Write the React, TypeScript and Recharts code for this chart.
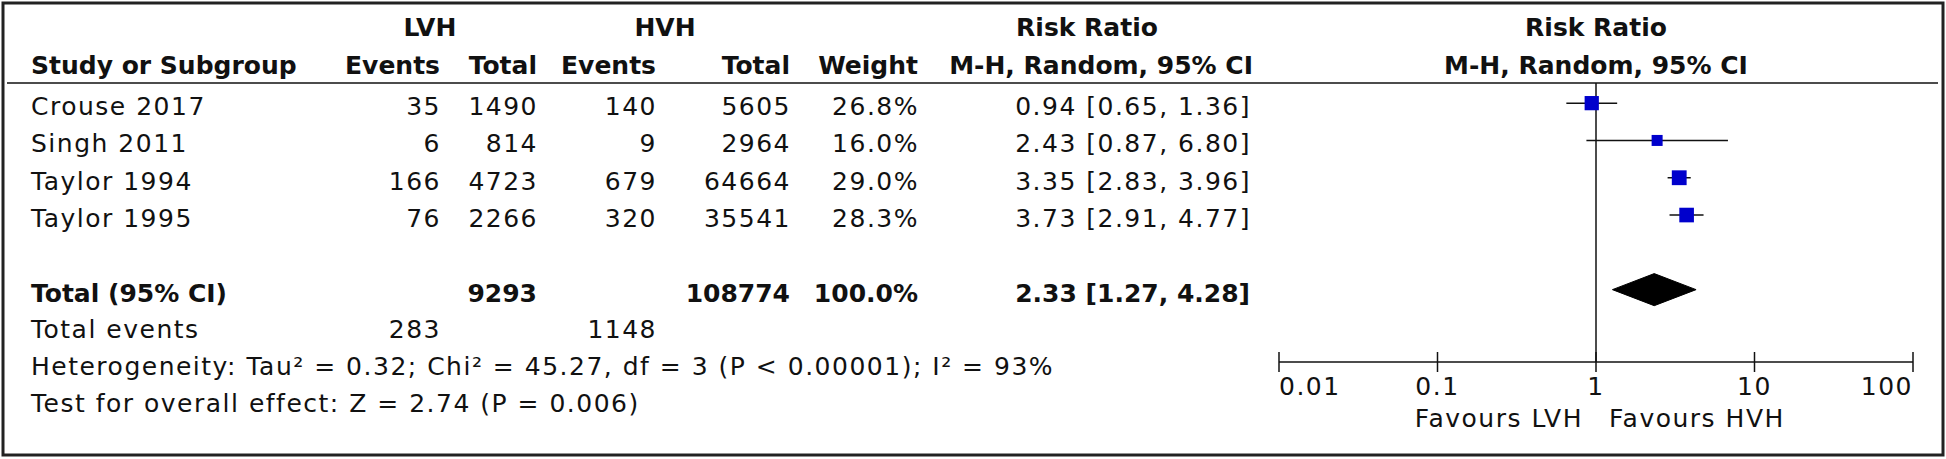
import React from 'react';
import { ComposedChart, Scatter, XAxis, YAxis, ReferenceLine, Customized } from 'recharts';

// ---------- data ----------
const studies = ['Crouse 2017', 'Singh 2011', 'Taylor 1994', 'Taylor 1995'];
const lvhEvents = [35, 6, 166, 76];
const lvhTotal = [1490, 814, 4723, 2266];
const hvhEvents = [140, 9, 679, 320];
const hvhTotal = [5605, 2964, 64664, 35541];
const weights = [26.8, 16.0, 29.0, 28.3];
const riskRatio = [0.94, 2.43, 3.35, 3.73];
const ciLow = [0.65, 0.87, 2.83, 2.91];
const ciHigh = [1.36, 6.8, 3.96, 4.77];

const pooledRR = 2.33;
const pooledLow = 1.27;
const pooledHigh = 4.28;
const totalLvh = 9293;
const totalHvh = 108774;
const totalWeight = 100.0;
const totalEventsLvh = 283;
const totalEventsHvh = 1148;
const heterogeneityText = 'Heterogeneity: Tau\u00B2 = 0.32; Chi\u00B2 = 45.27, df = 3 (P < 0.00001); I\u00B2 = 93%';
const overallText = 'Test for overall effect: Z = 2.74 (P = 0.006)';

const xTicks = [0.01, 0.1, 1, 10, 100];
const favoursLeft = 'Favours LVH';
const favoursRight = 'Favours HVH';

// ---------- styles ----------
const W = 1946;
const H = 459;
const FONT = "'DejaVu Sans', sans-serif";
const INK = '#111';
const REG: any = { fontFamily: FONT, fontSize: 25, letterSpacing: 1.5, fill: INK };
const BOLD: any = { fontFamily: FONT, fontSize: 25, fontWeight: 700, fill: INK };
const COL = { name: 31, lvhEv: 441, lvhTot: 538, hvhEv: 657, hvhTot: 791, weight: 919, ci: 1251 };
const TOTAL_ROW = 5;
const DIAMOND_HALF = 0.43;

const fmtCI = (r: number, lo: number, hi: number) => `${r.toFixed(2)} [${lo.toFixed(2)}, ${hi.toFixed(2)}]`;

const tableData = [
  ...studies.map((name, i) => ({
    x: 1,
    y: i,
    bold: false,
    cells: [
      { t: name, x: COL.name, a: 'start' },
      { t: String(lvhEvents[i]), x: COL.lvhEv, a: 'end' },
      { t: String(lvhTotal[i]), x: COL.lvhTot, a: 'end' },
      { t: String(hvhEvents[i]), x: COL.hvhEv, a: 'end' },
      { t: String(hvhTotal[i]), x: COL.hvhTot, a: 'end' },
      { t: `${weights[i].toFixed(1)}%`, x: COL.weight, a: 'end' },
      { t: fmtCI(riskRatio[i], ciLow[i], ciHigh[i]), x: COL.ci, a: 'end' },
    ],
  })),
  {
    x: 1,
    y: TOTAL_ROW,
    bold: true,
    cells: [
      { t: 'Total (95% CI)', x: COL.name, a: 'start' },
      { t: String(totalLvh), x: COL.lvhTot - 1, a: 'end' },
      { t: String(totalHvh), x: COL.hvhTot - 1, a: 'end' },
      { t: `${totalWeight.toFixed(1)}%`, x: COL.weight - 1, a: 'end' },
      { t: fmtCI(pooledRR, pooledLow, pooledHigh), x: COL.ci - 1, a: 'end' },
    ],
  },
];

const studyPoints = studies.map((name, i) => ({ x: riskRatio[i], y: i, w: weights[i], name }));

const diamondPoints = [
  { x: pooledLow, y: TOTAL_ROW },
  { x: pooledRR, y: TOTAL_ROW - DIAMOND_HALF },
  { x: pooledHigh, y: TOTAL_ROW },
  { x: pooledRR, y: TOTAL_ROW + DIAMOND_HALF },
];

// ---------- renderers ----------
const TableRowShape = (p: any) => {
  const { cy, payload } = p;
  const st = payload.bold ? BOLD : REG;
  return (
    <g>
      {payload.cells.map((c: any, k: number) => (
        <text key={k} x={c.x} y={cy + 12} textAnchor={c.a} {...st}>
          {c.t}
        </text>
      ))}
    </g>
  );
};

const SquareShape = (p: any) => {
  const s = 2.75 * Math.sqrt(p.payload.w);
  return <rect x={p.cx - s / 2} y={p.cy - s / 2} width={s} height={s} fill="#0000CC" />;
};

const DiamondLine = (lp: any) => (
  <polygon
    points={(lp.points || []).map((pt: any) => `${pt.x},${pt.y}`).join(' ')}
    fill="#000"
    stroke="#000"
    strokeWidth={1}
  />
);

const renderTick = (p: any) => {
  const { x, y, payload, index } = p;
  const anchor = index === 0 ? 'start' : index === xTicks.length - 1 ? 'end' : 'middle';
  const v = payload.value;
  return (
    <g>
      <line x1={x} x2={x} y1={y - 10} y2={y + 10} stroke={INK} strokeWidth={1.5} />
      <text x={x} y={y + 33} textAnchor={anchor} {...REG}>
        {String(v)}
      </text>
      {v === 1 && (
        <>
          <text x={x - 13} y={y + 65} textAnchor="end" {...REG}>
            {favoursLeft}
          </text>
          <text x={x + 13} y={y + 65} textAnchor="start" {...REG}>
            {favoursRight}
          </text>
        </>
      )}
    </g>
  );
};

const Decorations = () => (
  <g>
    <rect x={3} y={3} width={1940} height={452} fill="none" stroke="#222" strokeWidth={3} />
    <line x1={7} x2={1938} y1={83} y2={83} stroke={INK} strokeWidth={1.5} />
    {/* header row 1 */}
    <text x={430} y={36} textAnchor="middle" {...BOLD}>LVH</text>
    <text x={665} y={36} textAnchor="middle" {...BOLD}>HVH</text>
    <text x={1087} y={36} textAnchor="middle" {...BOLD}>Risk Ratio</text>
    <text x={1596} y={36} textAnchor="middle" {...BOLD}>Risk Ratio</text>
    {/* header row 2 */}
    <text x={31} y={74} textAnchor="start" {...BOLD}>Study or Subgroup</text>
    <text x={440} y={74} textAnchor="end" {...BOLD}>Events</text>
    <text x={537} y={74} textAnchor="end" {...BOLD}>Total</text>
    <text x={656} y={74} textAnchor="end" {...BOLD}>Events</text>
    <text x={790} y={74} textAnchor="end" {...BOLD}>Total</text>
    <text x={918} y={74} textAnchor="end" {...BOLD}>Weight</text>
    <text x={1253} y={74} textAnchor="end" {...BOLD}>M-H, Random, 95% CI</text>
    <text x={1596} y={74} textAnchor="middle" {...BOLD}>M-H, Random, 95% CI</text>
    {/* footer */}
    <text x={31} y={338} {...REG}>Total events</text>
    <text x={COL.lvhEv} y={338} textAnchor="end" {...REG}>{String(totalEventsLvh)}</text>
    <text x={COL.hvhEv} y={338} textAnchor="end" {...REG}>{String(totalEventsHvh)}</text>
    <text x={31} y={375} {...REG}>{heterogeneityText}</text>
    <text x={31} y={412} {...REG}>{overallText}</text>
  </g>
);

export default function App() {
  return (
    <div style={{ position: 'absolute', left: 0, top: 0, width: W, height: H, background: '#fff' }}>
      <ComposedChart width={W} height={H} margin={{ top: 83, left: 1279, right: 33, bottom: 37 }}>
        <Customized component={Decorations} />
        <XAxis
          type="number"
          dataKey="x"
          scale="log"
          domain={[0.01, 100]}
          ticks={xTicks}
          interval={0}
          height={60}
          tickSize={0}
          tickMargin={0}
          tickLine={false}
          axisLine={{ stroke: INK, strokeWidth: 1.5 }}
          tick={renderTick}
        />
        <YAxis type="number" dataKey="y" domain={[-0.54, 6.94]} reversed hide />
        <ReferenceLine x={1} stroke={INK} strokeWidth={1.5} />
        {studies.map((s, i) => (
          <ReferenceLine
            key={s}
            segment={[
              { x: ciLow[i], y: i },
              { x: ciHigh[i], y: i },
            ]}
            stroke={INK}
            strokeWidth={1.5}
          />
        ))}
        <Scatter data={tableData} isAnimationActive={false} shape={TableRowShape} />
        <Scatter data={studyPoints} isAnimationActive={false} shape={SquareShape} />
        <Scatter
          data={diamondPoints}
          isAnimationActive={false}
          shape={() => <g />}
          line={DiamondLine}
          lineType="joint"
        />
      </ComposedChart>
    </div>
  );
}
